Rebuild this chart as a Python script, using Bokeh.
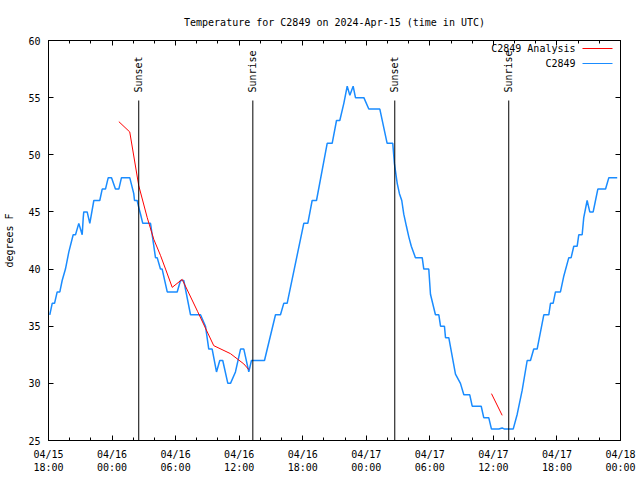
import math
import numpy as np
import pandas as pd
from bokeh.plotting import figure
from bokeh.models import (Range1d, FixedTicker, DatetimeTickFormatter, LinearAxis,
                          DatetimeAxis, CustomJSTickFormatter, Label, Arrow, ColumnDataSource)
from bokeh.core.properties import value
from bokeh.embed import file_html
from bokeh.resources import INLINE

START = pd.Timestamp("2024-04-15 18:00")
END = pd.Timestamp("2024-04-18 00:00")

# Observed station temperature (hours after 2024-04-15 18:00 UTC, degrees F)
blue_hours = [0.12, 0.35, 0.57, 0.82, 1.07, 1.29, 1.60, 1.92, 2.33, 2.55, 2.86, 3.02, 3.18, 3.28,
              3.33, 3.65, 3.90, 4.28, 4.84, 5.07, 5.38, 5.64, 5.95, 6.32, 6.64, 6.89, 7.67, 8.05,
              8.12, 8.37, 8.52, 8.69, 8.90, 9.37, 9.63, 9.79, 10.10, 10.26, 10.57, 10.73, 11.21,
              12.15, 12.46, 12.77, 13.41, 14.35, 14.82, 15.13, 15.45, 15.86, 16.17, 16.45, 16.93,
              17.18, 17.65, 18.13, 18.44, 18.91, 19.16, 20.39, 21.43, 21.90, 22.21, 22.53, 24.10,
              24.48, 24.89, 25.30, 26.31, 26.78, 27.19, 27.50, 27.88, 28.20, 28.45, 28.76, 28.98,
              29.77, 30.24, 31.28, 31.97, 32.50, 32.66, 32.92, 33.13, 33.35, 33.54, 33.80, 34.02,
              34.25, 34.64, 35.28, 35.43,
              35.90, 36.06, 36.53, 36.85, 37.01, 37.38, 37.48, 37.79, 38.42, 38.89, 39.21, 39.77,
              40.00, 40.85, 41.09, 41.56, 41.82, 42.51, 42.83, 43.05, 43.87, 44.25, 44.72, 45.19,
              45.50, 45.81, 46.13, 46.76, 47.23, 47.39, 47.64, 47.86, 48.33, 48.65, 49.12, 49.34,
              49.59, 49.91, 50.06, 50.38, 50.53, 50.85, 51.10, 51.42, 51.64, 51.86, 52.59, 52.90,
              53.69]
blue_temps = [36, 37, 37, 38, 38, 39, 40, 41.5, 43, 43, 44, 43.5, 43, 44.5,
              45, 45, 44, 46, 46, 47, 47, 48, 48, 47, 47, 48, 48, 46.6,
              46, 46, 45.4, 44.8, 44, 44, 44, 43, 41, 41, 40, 40, 38,
              38, 39, 39, 36, 36, 35, 33, 33, 31, 32, 32, 30,
              30, 31, 33, 33, 31, 32, 32, 36, 36, 37, 37, 44,
              44, 46, 46, 51, 51, 53, 53, 54.5, 56, 55.2, 56, 55,
              55, 54, 54, 51, 51, 49.2, 47.5, 46.6, 46, 44.8, 43.7, 42.8,
              42, 41, 41, 40,
              40, 37.8, 36, 36, 35, 35, 34, 34, 30.8, 30, 29, 29,
              28, 28, 27, 27, 26, 26, 26.1, 26, 26, 27.3, 29.4, 32,
              32, 33, 33, 36, 36, 37, 37, 38, 38, 39.4, 41, 41,
              42, 42, 43, 43, 44.5, 46, 45, 45, 46, 47, 47, 48,
              48]

# Analysis series (NaN separates the two pieces)
red_hours = [6.64, 7.67, 8.52, 9.32, 9.94, 10.57, 11.05, 11.68, 12.62, 14.07, 15.60, 17.18,
             18.44, 18.91, 30.0, 41.82, 42.83]
red_temps = [52.9, 52.0, 47.3, 44.5, 42.6, 41.2, 40.0, 38.4, 39.1, 36.3, 33.3, 32.6,
             31.7, 31.2, float("nan"), 29.1, 27.2]

event_names = ["Sunset", "Sunrise", "Sunset", "Sunrise"]
event_hours = [8.52, 19.29, 32.69, 43.45]

tick_hours = [0, 6, 12, 18, 24, 30, 36, 42, 48, 54]
minor_hours = list(range(0, 55, 2))

FONT = "DejaVu Sans Mono"
FS = "10px"


def to_dt(hours):
    return [START + pd.Timedelta(hours=h) for h in hours]


def to_ms(hours):
    return [(START + pd.Timedelta(hours=h)).value // 10**6 for h in hours]


p = figure(width=640, height=480, x_axis_type="datetime", output_backend="svg",
           toolbar_location=None, min_border_left=48, min_border_right=20,
           min_border_top=40, min_border_bottom=40,
           x_range=Range1d(START, END), y_range=Range1d(25, 60))
p.xgrid.visible = False
p.ygrid.visible = False
p.outline_line_color = "black"
p.outline_line_width = 1
p.background_fill_color = "white"
p.border_fill_color = "white"

p.title.text = "Temperature for C2849 on 2024-Apr-15 (time in UTC)"
p.title.align = "center"
p.title.text_font = FONT
p.title.text_font_size = FS
p.title.text_font_style = "normal"
p.title.text_color = "black"
p.title.standoff = 26

ticker = FixedTicker(ticks=to_ms(tick_hours), minor_ticks=to_ms(minor_hours))
fmt = "%m/%d\n%H:%M"
xfmt = DatetimeTickFormatter(microseconds=fmt, milliseconds=fmt, seconds=fmt, minsec=fmt,
                             minutes=fmt, hourmin=fmt, hours=fmt, days=fmt, months=fmt, years=fmt)

xa = p.xaxis[0]
xa.ticker = ticker
xa.formatter = xfmt
ya = p.yaxis[0]
ya.ticker = FixedTicker(ticks=[25, 30, 35, 40, 45, 50, 55, 60], minor_ticks=[])
ya.axis_label = "degrees F"

for ax in (xa, ya):
    ax.major_tick_in = 5
    ax.major_tick_out = 0
    ax.minor_tick_in = 3
    ax.minor_tick_out = 0
    ax.major_label_text_font = FONT
    ax.major_label_text_font_size = FS
    ax.major_label_text_color = "black"
    ax.axis_line_color = "black"
    ax.major_tick_line_color = "black"
    ax.minor_tick_line_color = "black"
    ax.major_label_standoff = 8
    ax.axis_label_text_font = FONT
    ax.axis_label_text_font_size = FS
    ax.axis_label_text_font_style = "normal"
    ax.axis_label_text_color = "black"
ya.axis_label_standoff = 10

blank = CustomJSTickFormatter(code="return ''")
top = DatetimeAxis(ticker=ticker, formatter=blank)
right = LinearAxis(ticker=FixedTicker(ticks=[25, 30, 35, 40, 45, 50, 55, 60], minor_ticks=[]),
                   formatter=blank)
for ax in (top, right):
    ax.major_tick_in = 5
    ax.major_tick_out = 0
    ax.minor_tick_in = 3
    ax.minor_tick_out = 0
    ax.major_label_standoff = 0
    ax.major_label_text_font_size = "1px"
    ax.axis_line_color = "black"
p.add_layout(top, "above")
p.add_layout(right, "right")

# data lines
p.line(to_dt(blue_hours), blue_temps, line_color="#1a8cff", line_width=1.5)
p.line(to_dt(red_hours), red_temps, line_color="#ff0000", line_width=1)

# sunrise / sunset markers
ev_src = ColumnDataSource(dict(x=to_dt(event_hours), y0=[25] * 4, y1=[54.75] * 4,
                               ty=[55.45] * 4, name=event_names))
p.segment(x0="x", y0="y0", x1="x", y1="y1", source=ev_src, line_color="black", line_width=1)
p.text(x="x", y="ty", text="name", source=ev_src, angle=math.pi / 2,
       text_align="left", text_baseline="middle", text_font=value(FONT),
       text_font_size=FS, text_color="black")

# legend (gnuplot style: label left, sample right)
for label, color, sy in (("C2849 Analysis", "#ff0000", 392), ("C2849", "#1a8cff", 377)):
    p.add_layout(Label(x=527, y=sy, x_units="screen", y_units="screen", text=label,
                       text_align="right", text_baseline="middle", text_font=FONT,
                       text_font_size=FS, text_color="black"))
    p.add_layout(Arrow(end=None, x_start=534, y_start=sy, x_end=564, y_end=sy,
                       start_units="screen", end_units="screen",
                       line_color=color, line_width=1))

open("out.html", "w").write(file_html(p, INLINE))
